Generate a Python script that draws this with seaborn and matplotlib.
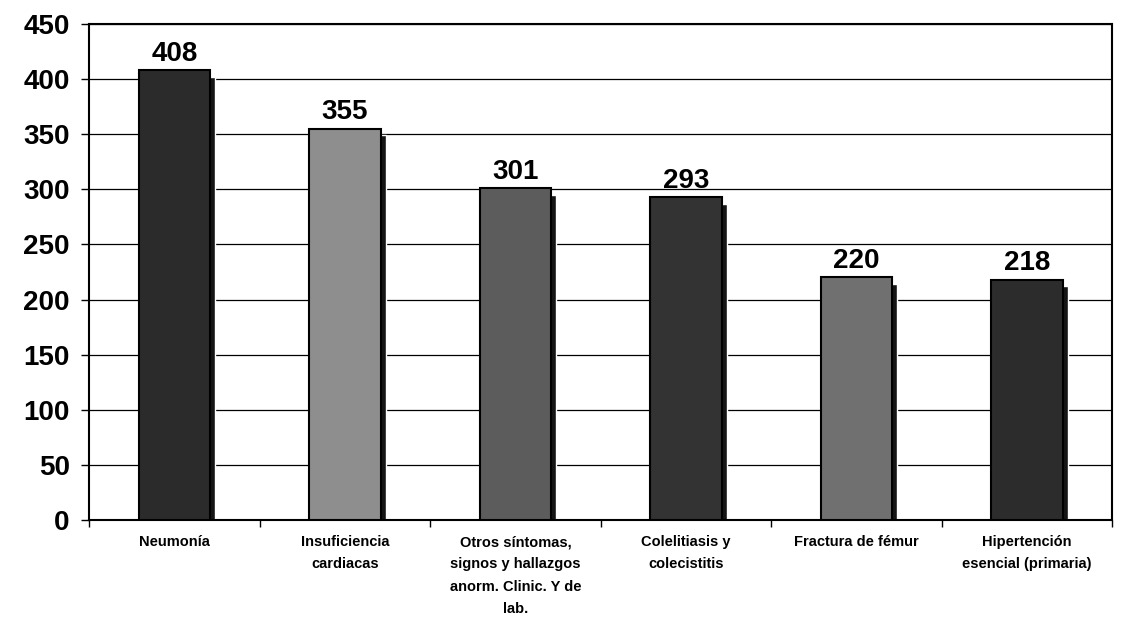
# Bar chart: principales causas de egreso
import numpy as np
import pandas as pd
import matplotlib
matplotlib.use("Agg")
import matplotlib.pyplot as plt
import seaborn as sns

# -----------------------------
# Data
# -----------------------------
categories = [
    "Neumonía",
    "Insuficiencia\ncardiacas",
    "Otros síntomas,\nsignos y hallazgos\nanorm. Clinic. Y de\nlab.",
    "Colelitiasis y\ncolecistitis",
    "Fractura de fémur",
    "Hipertención\nesencial (primaria)",
]
values = [408, 355, 301, 293, 220, 218]
bar_colors = ["#2b2b2b", "#8e8e8e", "#5c5c5c", "#333333", "#707070", "#2c2c2c"]
y_ticks = [0, 50, 100, 150, 200, 250, 300, 350, 400, 450]

df = pd.DataFrame({"causa": categories, "casos": values})

# -----------------------------
# Style
# -----------------------------
sns.set_style("white")
plt.rcParams["font.family"] = ["Liberation Sans", "DejaVu Sans"]
plt.rcParams["text.color"] = "black"
plt.rcParams["xtick.color"] = "black"
plt.rcParams["ytick.color"] = "black"

fig = plt.figure(figsize=(11.28, 6.34), dpi=100)
ax = fig.add_axes([0.079, 0.18, 0.907, 0.782])

# shadow bars, slightly right and lower
x = np.arange(len(categories))
ax.bar(x + 0.03, np.array(values) - 6, width=0.42, color="#151515", zorder=2)

sns.barplot(
    data=df,
    x="causa",
    y="casos",
    hue="causa",
    palette=bar_colors,
    legend=False,
    width=0.42,
    edgecolor="black",
    linewidth=1.5,
    ax=ax,
    zorder=3,
)

for i, v in enumerate(values):
    ax.text(i, v + 3, str(v), ha="center", va="bottom",
            fontsize=20, fontweight="bold", color="black")

ax.set_ylim(0, 450)
ax.set_xlim(-0.5, len(categories) - 0.5)
ax.set_yticks(y_ticks)
ax.set_yticklabels([str(t) for t in y_ticks], fontsize=20, fontweight="bold")
ax.yaxis.grid(True, color="black", linewidth=0.9)
ax.set_axisbelow(True)

ax.set_xticks(x)
ax.set_xticklabels(categories, fontsize=10.5, fontweight="bold", linespacing=1.75)
ax.tick_params(axis="x", length=0, pad=11)
ax.tick_params(axis="y", length=6, width=1, left=True, direction="out", pad=8)

# minor ticks between categories
ax.set_xticks(np.arange(-0.5, len(categories)), minor=True)
ax.tick_params(axis="x", which="minor", length=5, width=1, bottom=True, direction="out")

ax.set_xlabel("")
ax.set_ylabel("")
for s in ax.spines.values():
    s.set_color("black")
    s.set_linewidth(1.5)

plt.savefig("out.png", dpi=100)
